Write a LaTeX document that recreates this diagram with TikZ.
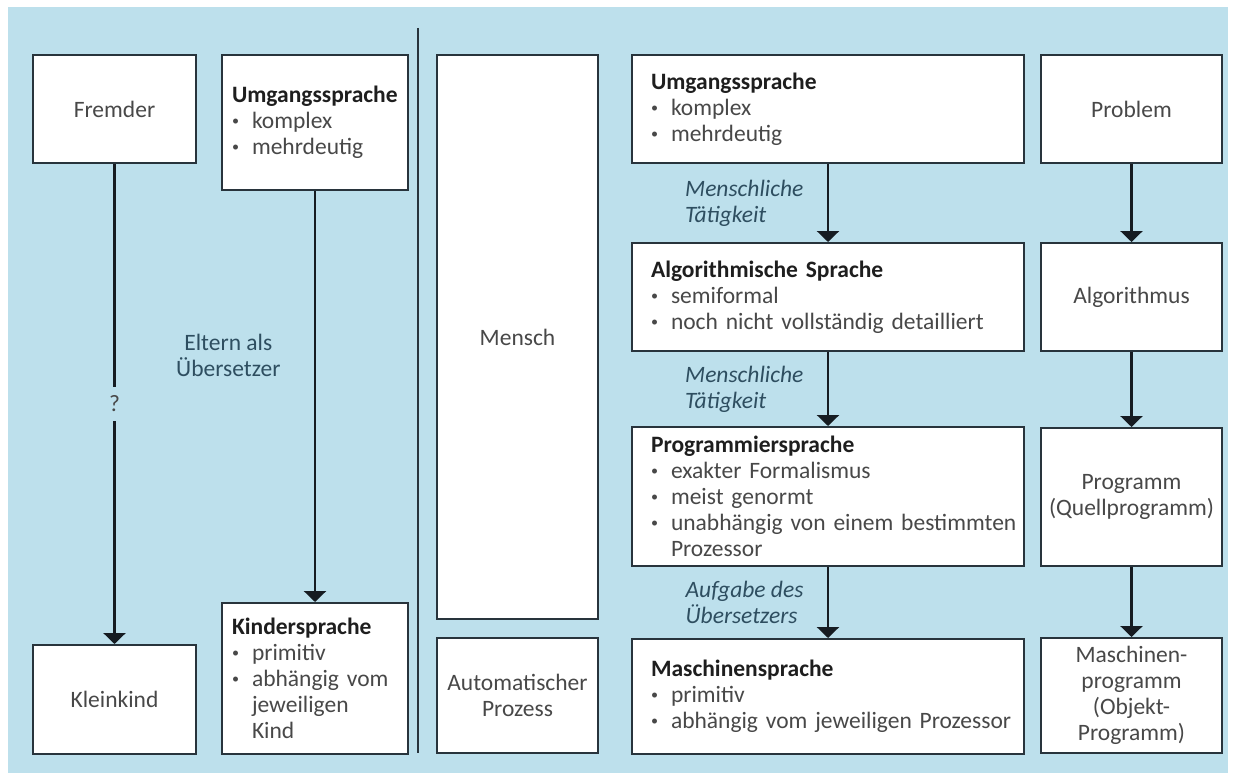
\documentclass[tikz,border=0pt]{standalone}
\usepackage{fontspec}
\setmainfont{Carlito}
\usepackage{xcolor}
\usetikzlibrary{arrows.meta,positioning}
\definecolor{panelBlue}{RGB}{189,224,236}
\definecolor{boxLine}{RGB}{40,52,60}
\definecolor{arrowLine}{RGB}{22,28,34}
\definecolor{bodyText}{RGB}{72,72,72}
\definecolor{titleText}{RGB}{30,30,30}
\definecolor{labelText}{RGB}{46,78,96}
\newcommand{\titel}[1]{\mbox{\textcolor{titleText}{\bfseries #1}}}
\newcommand{\pkt}[1]{\mbox{\makebox[20pt][l]{\raisebox{0.12em}{\scalebox{0.6}{\textbullet}}}#1}}
\newcommand{\ein}[1]{\mbox{\hspace*{20pt}#1}}

\begin{document}
\begin{tikzpicture}[
  x=1pt, y=-1pt,
  font=\fontsize{23.5}{26}\selectfont,
  kasten/.style={
    draw=boxLine, line width=2pt, fill=white,
    text=bodyText, align=center, inner sep=0pt
  },
  liste/.style={
    kasten, align=left, inner xsep=#1
  },
  pfeil/.style={
    draw=arrowLine, line width=2.5pt,
    -{Triangle[width=22pt,length=11pt]}
  },
  hinweis/.style={
    font=\fontsize{23.5}{26}\selectfont\itshape,
    text=labelText, align=left
  }
]
\useasboundingbox (0,0) rectangle (1233,773);
\fill[panelBlue] (8,7) rectangle (1228,773);

% linke Seite
\node[kasten, minimum width=163pt, minimum height=108pt] (fremder) at (114.5,109) {Fremder};
\node[kasten, minimum width=163pt, minimum height=109pt] (kleinkind) at (114.5,699.5) {Kleinkind};
\node[liste=10pt, text width=166pt, minimum width=186pt, minimum height=135pt] (umgL) at (315,122.5)
  {\titel{Umgangssprache}\\ \pkt{komplex}\\ \pkt{mehrdeutig}};
\node[liste=10pt, text width=166pt, minimum width=186pt, minimum height=151pt] (kindL) at (315,678.5)
  {\titel{Kindersprache}\\ \pkt{primitiv}\\ \pkt{abhängig vom}\\ \ein{jeweiligen}\\ \ein{Kind}};

\draw[pfeil] (fremder) -- node[fill=panelBlue, text=bodyText, inner xsep=2pt, inner ysep=9pt] {?} (kleinkind);
\draw[pfeil] (umgL) -- node[pos=0.4, left=30pt, text=labelText, align=center] {Eltern als\\Übersetzer} (kindL);

\draw[draw=boxLine, line width=2pt] (418,28) -- (418,753);

% rechte Seite
\node[kasten, minimum width=161pt, minimum height=564pt] (mensch) at (517.5,337) {Mensch};
\node[kasten, minimum width=161pt, minimum height=115pt] (auto) at (517.5,695.5) {Automatischer\\Prozess};

\node[liste=19pt, text width=354pt, minimum width=392pt, minimum height=108pt] (umgR) at (828,109)
  {\titel{Umgangssprache}\\ \pkt{komplex}\\ \pkt{mehrdeutig}};
\node[liste=19pt, text width=354pt, minimum width=392pt, minimum height=108pt] (algo) at (828,297)
  {\titel{Algorithmische Sprache}\\ \pkt{semiformal}\\ \pkt{noch nicht vollständig detailliert}};
\node[liste=19pt, text width=354pt, minimum width=392pt, minimum height=139pt] (prog) at (828,496.5)
  {\titel{Programmiersprache}\\ \pkt{exakter Formalismus}\\ \pkt{meist genormt}\\
   \pkt{unabhängig von einem bestimmten}\\ \ein{Prozessor}};
\node[liste=19pt, text width=354pt, minimum width=392pt, minimum height=115pt] (masch) at (828,696.5)
  {\titel{Maschinensprache}\\ \pkt{primitiv}\\ \pkt{abhängig vom jeweiligen Prozessor}};

\node[kasten, minimum width=181pt, minimum height=108pt] (problem) at (1131.5,109) {Problem};
\node[kasten, minimum width=181pt, minimum height=108pt] (algorithmus) at (1131.5,297) {Algorithmus};
\node[kasten, minimum width=181pt, minimum height=138pt] (programm) at (1131.5,497) {Programm\\(Quellprogramm)};
\node[kasten, minimum width=181pt, minimum height=115pt] (maschprog) at (1131.5,695.5)
  {Maschinen-\\programm\\(Objekt-\\Programm)};

\draw[pfeil] (umgR) -- node[hinweis, left=20pt] {Menschliche\\Tätigkeit} (algo);
\draw[pfeil] (algo) -- node[hinweis, left=20pt] {Menschliche\\Tätigkeit} (prog);
\draw[pfeil] (prog) -- node[hinweis, left=20pt] {Aufgabe des\\Übersetzers} (masch);

\draw[pfeil] (problem) -- (algorithmus);
\draw[pfeil] (algorithmus) -- (programm);
\draw[pfeil] (programm) -- (maschprog);
\end{tikzpicture}
\end{document}
